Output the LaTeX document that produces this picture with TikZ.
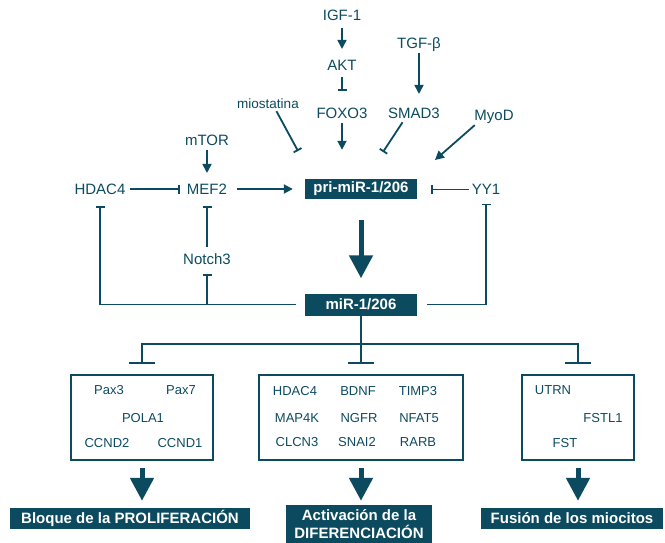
\documentclass[tikz,border=0pt]{standalone}
\usepackage{fontspec}
\setmainfont{Liberation Sans}
\usetikzlibrary{arrows.meta}
\definecolor{petrol}{HTML}{0C4B5F}
\tikzset{
  lbl/.style={inner sep=0pt, text height=10.7pt, text depth=0pt, text=petrol, font=\fontsize{15}{17}\selectfont},
  gene/.style={lbl, text height=9.3pt, font=\fontsize{13}{15}\selectfont},
  darkbox/.style={fill=petrol, text=white, inner sep=0pt, align=center, font=\bfseries\fontsize{15}{18}\selectfont},
  genebox/.style={draw=petrol, line width=1.8pt, inner sep=0pt},
  act/.style={petrol, line width=1.8pt, -{Triangle[length=9pt,width=9pt]}},
  inh/.style={petrol, line width=1.8pt, -{Bar[width=9pt]}},
  wideinh/.style={petrol, line width=1.8pt, -{Bar[width=26pt]}},
  bigarrow/.style={petrol, line width=5pt, -{Triangle[length=23pt,width=23pt]}}
}
\begin{document}
\begin{tikzpicture}[x=1pt,y=-1pt]
    \useasboundingbox (0,0) rectangle (665,543);

    % Reguladores
    \node[lbl] (igf) at (342,15) {IGF-1};
    \node[lbl] (akt) at (342,65) {AKT};
    \node[lbl] (foxo) at (342,113) {FOXO3};
    \node[lbl] (tgf) at (419,43) {TGF-β};
    \node[lbl] (smad) at (414,113) {SMAD3};
    \node[lbl] (myod) at (494,115) {MyoD};
    \node[lbl, font=\fontsize{13.5}{15}\selectfont] (miost) at (268,103) {miostatina};
    \node[lbl] (mtor) at (207,140) {mTOR};
    \node[lbl] (hdac) at (100,189) {HDAC4};
    \node[lbl] (mef) at (207,189) {MEF2};
    \node[lbl] (yy) at (486,189.5) {YY1};
    \node[lbl] (notch) at (207,259) {Notch3};

    \node[darkbox, minimum width=112pt, minimum height=20pt] (prim) at (361,189) {pri-miR-1/206};
    \node[darkbox, minimum width=112pt, minimum height=22pt] (mir) at (361,304.5) {miR-1/206};

    \coordinate (miostEnd) at (298,151);
    \coordinate (smadEnd) at (383,152);
    \coordinate (myodEnd) at (435,160);
    \coordinate (split) at (361,344);

    \draw[act, shorten <=7.5pt, shorten >=10.5pt] (igf) -- (akt);
    \draw[inh, shorten <=6.5pt, shorten >=16.5pt] (akt) -- (foxo);
    \draw[act, shorten <=4.5pt, shorten >=13.5pt] (tgf) -- (tgf |- smad.north);
    \draw[act, shorten <=4.5pt, shorten >=29pt] (foxo) -- (foxo |- prim.north);
    \draw[inh, shorten <=3pt] ([xshift=7pt]miost.south) -- (miostEnd);
    \draw[inh, shorten <=4.5pt] ([xshift=-9pt]smad.south) -- (smadEnd);
    \draw[act, shorten <=7pt] ([xshift=-14pt]myod.south) -- (myodEnd);
    \draw[act, shorten <=4.5pt, shorten >=10.5pt] (mtor) -- (mef);
    \draw[inh, shorten <=4.5pt, shorten >=7pt] (hdac.east) -- (mef.west);
    \draw[act, shorten <=10pt, shorten >=12pt] (mef.east) -- (prim.west);
    \draw[inh, shorten <=3pt, shorten >=14pt] (yy.west) -- (prim.east |- yy.west);
    \draw[bigarrow, shorten <=21pt, shorten >=15pt] (prim.south) -- (mir.north);

    % Retroalimentacion
    \draw[inh, shorten <=9pt, shorten >=11.5pt] (mir.west) -| (hdac.south);
    \draw[inh, shorten <=6.5pt, shorten >=11.5pt] (notch.north) -- (mef.south);
    \draw[inh, shorten >=9.5pt] (notch |- mir.west) -- (notch.south);
    \draw[inh, shorten <=10pt, shorten >=8.5pt] (mir.east) -| (yy.south);

    % Dianas
    \node[genebox, minimum width=142pt, minimum height=85pt] (prolif) at (142,417.5) {};
    \node[genebox, minimum width=204pt, minimum height=85pt] (difer) at (361,417.5) {};
    \node[genebox, minimum width=112pt, minimum height=85pt] (fusion) at (578,417.5) {};
    \foreach \g/\gx/\gy in {Pax3/109/390, Pax7/181/390, POLA1/143/418, CCND2/107/443, CCND1/180/443,
        HDAC4/295/391, BDNF/358/391, TIMP3/418/391, MAP4K/297/418, NGFR/359/418, NFAT5/419/418,
        CLCN3/297/442, SNAI2/357/442, RARB/418/442, UTRN/553/390, FSTL1/603/418, FST/565/443}
        \node[gene] (g-\g) at (\gx,\gy) {\g};

    \draw[petrol, line width=1.8pt] (mir.south) -- (split);
    \draw[wideinh, shorten >=10pt] (split) -| (prolif.north);
    \draw[wideinh, shorten >=10pt] (split) -- (difer.north);
    \draw[wideinh, shorten >=10pt] (split) -| (fusion.north);

    % Efectos
    \node[darkbox, minimum width=240pt, minimum height=21pt] (res1) at (130,518.5) {Bloque de la PROLIFERACIÓN};
    \node[darkbox, minimum width=146pt, minimum height=38pt] (res2) at (359,524) {Activación de la\\DIFERENCIACIÓN};
    \node[darkbox, minimum width=182pt, minimum height=21pt] (res3) at (572,518.5) {Fusión de los miocitos};

    \draw[bigarrow, shorten <=7pt, shorten >=7pt] (prolif.south) -- (prolif.south |- res1.north);
    \draw[bigarrow, shorten <=7pt, shorten >=4pt] (difer.south) -- (difer.south |- res2.north);
    \draw[bigarrow, shorten <=7pt, shorten >=7pt] (fusion.south) -- (fusion.south |- res3.north);
\end{tikzpicture}
\end{document}
